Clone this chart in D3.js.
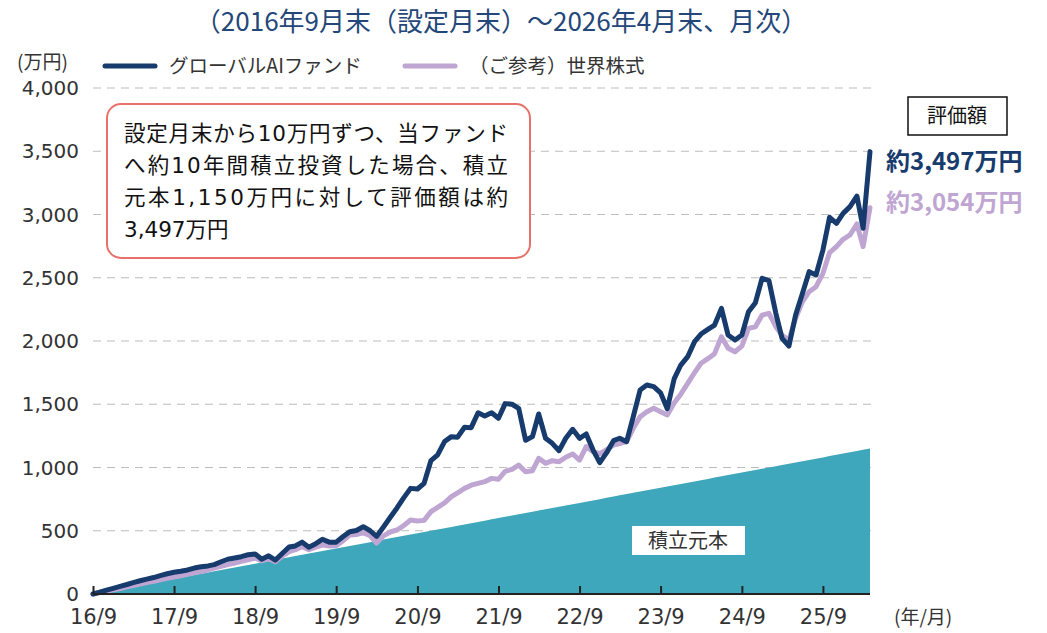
<!DOCTYPE html>
<html>
<head>
<meta charset="utf-8">
<script src="https://cdn.jsdelivr.net/npm/d3@7"></script>
<style>
  body { margin: 0; background: #fff; }
  svg { font-family: "Noto Sans CJK JP", "Noto Sans", sans-serif; }
  .num { font-family: "DejaVu Sans", "Noto Sans CJK JP", sans-serif; }
</style>
</head>
<body>
<div id="chart"></div>
<script>
// monthly values, 2016/9 .. 2026/4 (万円)
var fund = [0, 14, 30, 45, 60, 75, 90, 105, 118, 130, 145, 160, 172, 180, 190, 205, 215, 222, 232, 255,
  275, 285, 295, 310, 316, 275, 302, 268, 320, 372, 380, 410, 370, 398, 432, 410, 410, 452, 492, 502,
  532, 500, 455, 530, 605, 680, 760, 835, 830, 875, 1055, 1100, 1205, 1244, 1240, 1318, 1315, 1433, 1407, 1433,
  1389, 1505, 1500, 1468, 1215, 1244, 1423, 1231, 1191, 1133, 1231, 1302, 1231, 1265, 1138, 1038, 1117, 1212, 1231, 1204,
  1402, 1613, 1652, 1639, 1590, 1465, 1700, 1810, 1876, 1995, 2055, 2092, 2126, 2258, 2047, 2008, 2047, 2232, 2303, 2496,
  2477, 2219, 2021, 1960, 2205, 2377, 2548, 2522, 2719, 2978, 2930, 3009, 3062, 3146, 2891, 3497];

var world = [0, 11, 22, 33, 44, 56, 67, 78, 90, 100, 112, 124, 134, 144, 156, 168, 178, 190, 205, 218,
  232, 245, 258, 270, 285, 262, 278, 255, 300, 335, 350, 374, 350, 370, 387, 380, 382, 420, 466, 470,
  485, 460, 403, 460, 490, 506, 540, 585, 577, 582, 651, 685, 720, 769, 800, 835, 860, 875, 888, 914,
  907, 970, 985, 1020, 967, 975, 1073, 1033, 1054, 1046, 1081, 1107, 1059, 1165, 1125, 1110, 1140, 1178, 1190, 1204,
  1310, 1402, 1441, 1468, 1440, 1415, 1510, 1580, 1665, 1750, 1824, 1860, 1900, 2034, 1942, 1915, 1960, 2100, 2113, 2205,
  2219, 2113, 2045, 2008, 2180, 2311, 2390, 2429, 2535, 2698, 2746, 2804, 2838, 2925, 2746, 3054];

var principal = [0, 10, 20, 30, 40, 50, 60, 70, 80, 90, 100, 110, 120, 130, 140, 150, 160, 170, 180, 190,
  200, 210, 220, 230, 240, 250, 260, 270, 280, 290, 300, 310, 320, 330, 340, 350, 360, 370, 380, 390,
  400, 410, 420, 430, 440, 450, 460, 470, 480, 490, 500, 510, 520, 530, 540, 550, 560, 570, 580, 590,
  600, 610, 620, 630, 640, 650, 660, 670, 680, 690, 700, 710, 720, 730, 740, 750, 760, 770, 780, 790,
  800, 810, 820, 830, 840, 850, 860, 870, 880, 890, 900, 910, 920, 930, 940, 950, 960, 970, 980, 990,
  1000, 1010, 1020, 1030, 1040, 1050, 1060, 1070, 1080, 1090, 1100, 1110, 1120, 1130, 1140, 1150];

var xTickLabels = ["16/9", "17/9", "18/9", "19/9", "20/9", "21/9", "22/9", "23/9", "24/9", "25/9"];
var yTicks = [0, 500, 1000, 1500, 2000, 2500, 3000, 3500, 4000];
var noteLines = ["設定月末から10万円ずつ、当ファンド", "へ約10年間積立投資した場合、積立",
  "元本1,150万円に対して評価額は約", "3,497万円"];

var W = 1047, H = 633;
var navy = "#173b6c", lav = "#bfa5d2", teal = "#3ea7bb";

var months = d3.timeMonth.range(new Date(2016, 8, 1), new Date(2026, 4, 1));
var tickDates = xTickLabels.map(function(s) {
  return new Date(2000 + +s.split("/")[0], +s.split("/")[1] - 1, 1);
});

var x = d3.scaleTime().domain([months[0], months[months.length - 1]]).range([93, 870]);
var y = d3.scaleLinear().domain([0, 4000]).range([594, 88]);

var svg = d3.select("#chart").append("svg")
  .attr("width", W).attr("height", H);

// title
svg.append("text")
  .attr("x", 501).attr("y", 31)
  .attr("text-anchor", "middle")
  .attr("fill", "#24477a")
  .style("font-size", "26px")
  .text("（2016年9月末（設定月末）～2026年4月末、月次）");

// grid
svg.append("g").selectAll("line")
  .data(yTicks.slice(1))
  .join("line")
  .attr("x1", 93).attr("x2", 875)
  .attr("y1", d => y(d)).attr("y2", d => y(d))
  .attr("stroke", "#bdbdbd").attr("stroke-width", 1.2)
  .attr("stroke-dasharray", "8,6");

// y axis labels
svg.append("g").selectAll("text")
  .data(yTicks)
  .join("text")
  .attr("class", "num")
  .attr("x", 79).attr("y", d => y(d) + 7)
  .attr("text-anchor", "end")
  .attr("fill", "#333")
  .style("font-size", "20px")
  .text(d => d3.format(",")(d));

svg.append("text")
  .attr("x", 17).attr("y", 69)
  .attr("fill", "#333")
  .style("font-size", "19px")
  .text("(万円)");

// principal area
var area = d3.area()
  .x((d, i) => x(months[i]))
  .y0(y(0))
  .y1(d => y(d));

svg.append("path")
  .datum(principal)
  .attr("d", area)
  .attr("fill", teal);

// lines
var line = d3.line()
  .x((d, i) => x(months[i]))
  .y(d => y(d));

svg.append("path")
  .datum(world)
  .attr("d", line)
  .attr("fill", "none")
  .attr("stroke", lav).attr("stroke-width", 5)
  .attr("stroke-linejoin", "round").attr("stroke-linecap", "round");

svg.append("path")
  .datum(fund)
  .attr("d", line)
  .attr("fill", "none")
  .attr("stroke", navy).attr("stroke-width", 5)
  .attr("stroke-linejoin", "round").attr("stroke-linecap", "round");

// x axis
var xAxis = d3.axisBottom(x)
  .tickValues(tickDates)
  .tickSize(-8)
  .tickFormat((d, i) => xTickLabels[i]);

var gx = svg.append("g")
  .attr("transform", "translate(0," + y(0) + ")")
  .call(xAxis);
gx.select(".domain").attr("stroke", "#222").attr("stroke-width", 2)
  .attr("d", "M" + x.range()[0] + ",0H" + x.range()[1]);
gx.selectAll(".tick line").attr("stroke", "#222").attr("stroke-width", 2);
gx.selectAll(".tick text")
  .attr("y", 15)
  .attr("fill", "#333")
  .style("font-size", "21px")
  .style("font-family", "'DejaVu Sans', sans-serif");

svg.append("text")
  .attr("x", 894).attr("y", 624)
  .attr("fill", "#333")
  .style("font-size", "19px")
  .text("(年/月)");

// legend
var legend = [
  { name: "グローバルAIファンド", color: navy, x: 105 },
  { name: "（ご参考）世界株式", color: lav, x: 405 }
];
var lg = svg.append("g").selectAll("g").data(legend).join("g");
lg.append("line")
  .attr("x1", d => d.x).attr("x2", d => d.x + 50)
  .attr("y1", 66).attr("y2", 66)
  .attr("stroke", d => d.color).attr("stroke-width", 5)
  .attr("stroke-linecap", "round");
lg.append("text")
  .attr("x", d => d.x + 64).attr("y", 73)
  .attr("fill", "#333")
  .style("font-size", "19.5px")
  .text(d => d.name);

// note box
svg.append("rect")
  .attr("x", 107).attr("y", 104)
  .attr("width", 423).attr("height", 154)
  .attr("rx", 14)
  .attr("fill", "#fff")
  .attr("stroke", "#e8716b").attr("stroke-width", 2);

svg.append("g").selectAll("text")
  .data(noteLines)
  .join("text")
  .attr("class", "num")
  .attr("x", 124).attr("y", (d, i) => 141 + i * 32)
  .attr("fill", "#111")
  .style("font-size", "21.5px")
  .attr("textLength", (d, i) => i < 3 ? 384 : null)
  .attr("lengthAdjust", "spacing")
  .text(d => d);

// 評価額 box
svg.append("rect")
  .attr("x", 908).attr("y", 97)
  .attr("width", 99).attr("height", 38)
  .attr("fill", "#fff")
  .attr("stroke", "#111").attr("stroke-width", 1.5);
svg.append("text")
  .attr("x", 957).attr("y", 123)
  .attr("text-anchor", "middle")
  .attr("fill", "#111")
  .style("font-size", "20px")
  .text("評価額");

svg.append("text")
  .attr("x", 886).attr("y", 170)
  .attr("fill", navy)
  .style("font-size", "24px").style("font-weight", "bold")
  .text("約3,497万円");
svg.append("text")
  .attr("x", 886).attr("y", 211)
  .attr("fill", lav)
  .style("font-size", "24px").style("font-weight", "bold")
  .text("約3,054万円");

// 積立元本 label
svg.append("rect")
  .attr("x", 632).attr("y", 526)
  .attr("width", 113).attr("height", 29)
  .attr("fill", "#fff");
svg.append("text")
  .attr("x", 688).attr("y", 548)
  .attr("text-anchor", "middle")
  .attr("fill", "#333")
  .style("font-size", "20px")
  .text("積立元本");
</script>
</body>
</html>
